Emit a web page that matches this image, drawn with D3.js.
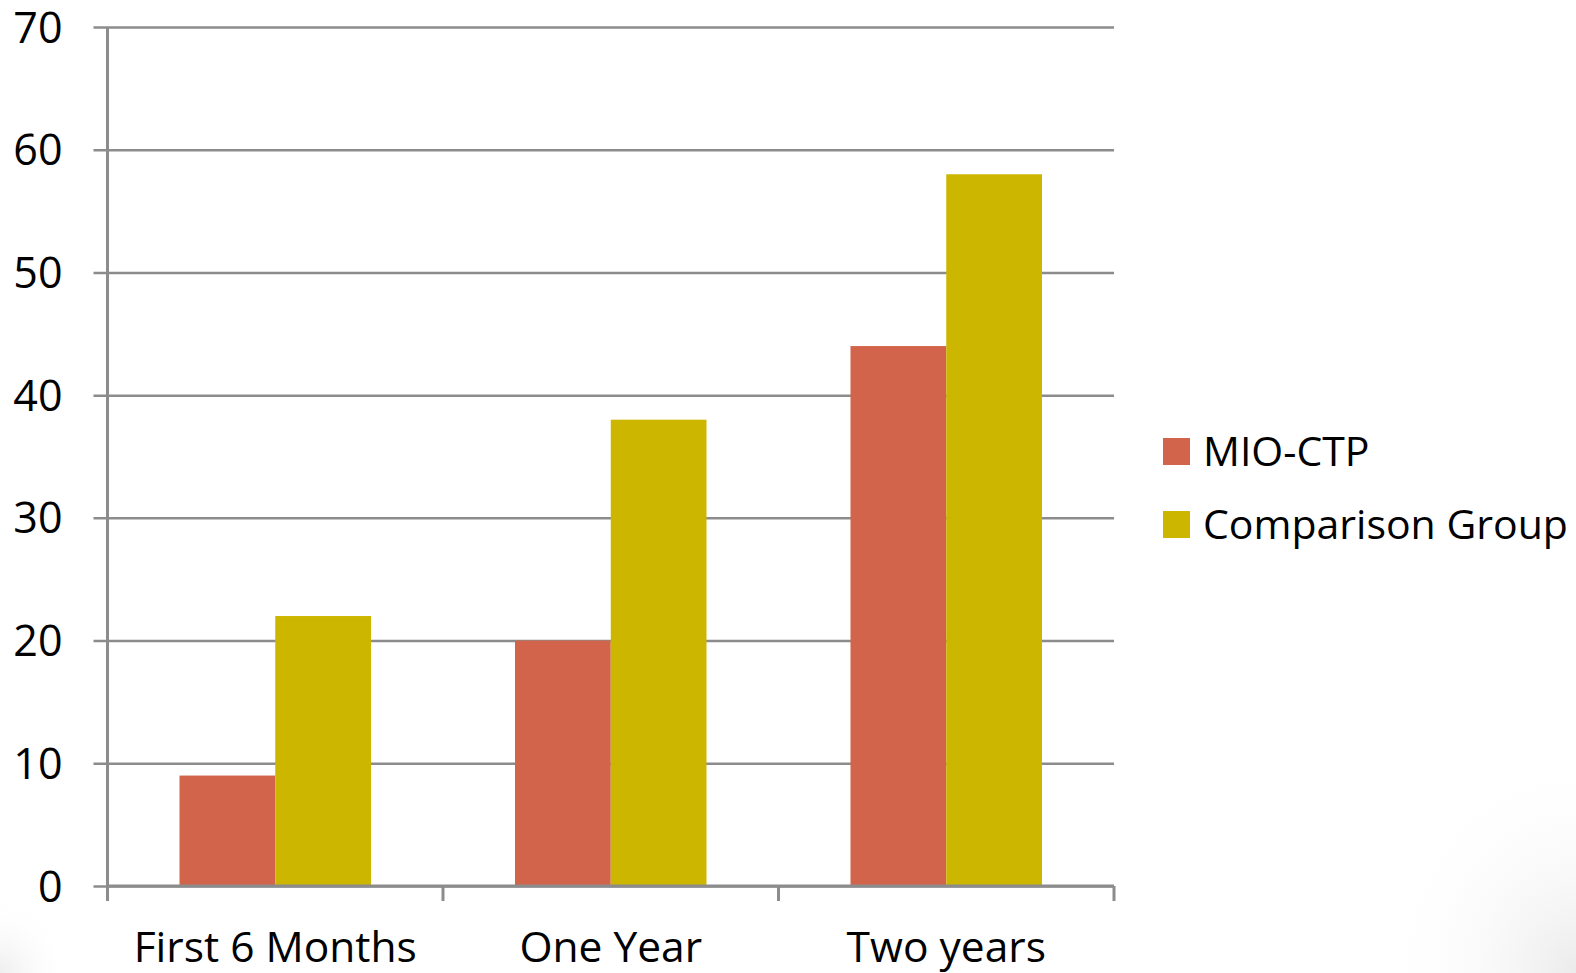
<!DOCTYPE html>
<html>
<head>
<meta charset="utf-8">
<script src="https://cdn.jsdelivr.net/npm/d3@7"></script>
<style>
  body { margin: 0; background: #fff; }
  text { font-family: "Open Sans", sans-serif; fill: #000; }
</style>
</head>
<body>
<div class="chart"></div>
<script>
var categories = ["First 6 Months", "One Year", "Two years"];
var seriesNames = ["MIO-CTP", "Comparison Group"];
var mioCtp = [9, 20, 44];
var comparison = [22, 38, 58];
var yTicks = [0, 10, 20, 30, 40, 50, 60, 70];
var colors = ["#D1644A", "#CDB600"];

var svgWidth = 1576;
var svgHeight = 973;

var margin = { top: 27, right: 462, bottom: 87, left: 107.5 };
var width = svgWidth - margin.left - margin.right;
var height = svgHeight - margin.top - margin.bottom;

var svg = d3.select(".chart")
  .append("svg")
  .attr("width", svgWidth)
  .attr("height", svgHeight);

// faint corner shading like the slide background
var defs = svg.append("defs");
var rg = defs.append("radialGradient").attr("id", "shadeR")
  .attr("cx", 1).attr("cy", 1).attr("r", 0.6);
rg.append("stop").attr("offset", 0).attr("stop-color", "#ebebeb");
rg.append("stop").attr("offset", 1).attr("stop-color", "#fff").attr("stop-opacity", 0);
var lg = defs.append("radialGradient").attr("id", "shadeL")
  .attr("cx", 0).attr("cy", 1).attr("r", 0.5);
lg.append("stop").attr("offset", 0).attr("stop-color", "#eeeeee");
lg.append("stop").attr("offset", 1).attr("stop-color", "#fff").attr("stop-opacity", 0);
svg.append("rect").attr("x", 1250).attr("y", 600).attr("width", 326).attr("height", 373).attr("fill", "url(#shadeR)");
svg.append("rect").attr("x", 0).attr("y", 820).attr("width", 140).attr("height", 153).attr("fill", "url(#shadeL)");

var chartGroup = svg.append("g")
  .attr("transform", `translate(${margin.left}, ${margin.top})`);

var data = categories.map(function (c, i) {
  return { cat: c, values: [mioCtp[i], comparison[i]] };
});

var x0 = d3.scaleBand()
  .domain(categories)
  .range([0, width])
  .paddingInner(0)
  .paddingOuter(0);

var x1 = d3.scaleBand()
  .domain([0, 1])
  .range([72, x0.bandwidth() - 72]);

var y = d3.scaleLinear()
  .domain([0, 70])
  .range([height, 0]);

// gridlines
var leftAxis = d3.axisLeft(y)
  .tickValues(yTicks)
  .tickSize(-width)
  .tickPadding(45)
  .tickFormat(d3.format("d"));

var gy = chartGroup.append("g").call(leftAxis);
gy.select(".domain").remove();
gy.selectAll(".tick line")
  .attr("x1", -14)
  .attr("stroke", "#8c8c8c")
  .attr("stroke-width", 2.5);
gy.selectAll(".tick text")
  .style("font-size", "43px")
  .attr("dy", "0.35em");

// bars
var groups = chartGroup.selectAll(".grp")
  .data(data)
  .enter()
  .append("g")
  .attr("transform", d => `translate(${x0(d.cat)},0)`);

groups.selectAll("rect")
  .data(d => d.values.map((v, i) => ({ v: v, i: i })))
  .enter()
  .append("rect")
  .attr("x", d => x1(d.i))
  .attr("width", x1.bandwidth())
  .attr("y", d => y(d.v))
  .attr("height", d => height - y(d.v))
  .attr("fill", d => colors[d.i]);

// y axis line
chartGroup.append("line")
  .attr("x1", 0).attr("x2", 0)
  .attr("y1", 0).attr("y2", height + 15)
  .attr("stroke", "#8c8c8c")
  .attr("stroke-width", 3);

// x axis
var bottomAxis = d3.axisBottom(x0).tickSize(0).tickPadding(46);
var gx = chartGroup.append("g")
  .attr("transform", `translate(0, ${height})`)
  .call(bottomAxis);
gx.select(".domain")
  .attr("stroke", "#8c8c8c")
  .attr("stroke-width", 3)
  .attr("d", `M0,0H${width}`);
gx.selectAll(".tick text")
  .style("font-size", "42.5px")
  .attr("dy", "0.71em");

// category boundary ticks
var bounds = categories.map(c => x0(c)).concat([width]);
chartGroup.selectAll(".ctick")
  .data(bounds)
  .enter()
  .append("line")
  .attr("x1", d => d).attr("x2", d => d)
  .attr("y1", height).attr("y2", height + 15)
  .attr("stroke", "#8c8c8c")
  .attr("stroke-width", 3);

// legend
var legend = svg.append("g")
  .attr("transform", "translate(1163, 438)");
var li = legend.selectAll(".li")
  .data(seriesNames)
  .enter()
  .append("g")
  .attr("transform", (d, i) => `translate(0, ${i * 73})`);
li.append("rect")
  .attr("width", 27)
  .attr("height", 27)
  .attr("fill", (d, i) => colors[i]);
li.append("text")
  .attr("x", 40)
  .attr("y", 13.5)
  .attr("dy", "0.36em")
  .style("font-size", "41px")
  .text(d => d);
</script>
</body>
</html>
